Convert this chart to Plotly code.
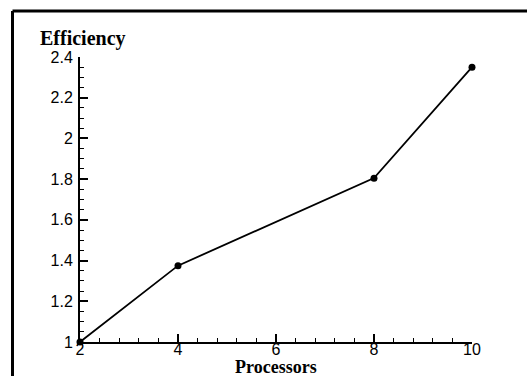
import plotly.graph_objects as go

processors = [2, 4, 8, 10]
efficiency = [1.0, 1.375, 1.805, 2.35]

x_ticks = [2, 4, 6, 8, 10]
x_tick_text = ["2", "4", "6", "8", "10"]
y_ticks = [1.0, 1.2, 1.4, 1.6, 1.8, 2.0, 2.2, 2.4]
y_tick_text = ["1", "1.2", "1.4", "1.6", "1.8", "2", "2.2", "2.4"]

W, H = 527, 376
ML, MR, MT, MB = 80, 55, 57, 34
pw, ph = W - ML - MR, H - MT - MB

fig = go.Figure()
fig.add_trace(go.Scatter(
    x=processors, y=efficiency, mode="lines+markers",
    line=dict(color="black", width=1.8),
    marker=dict(color="black", size=7),
    cliponaxis=False, showlegend=False,
))

tick_font = dict(family="Liberation Sans, Arial", size=16, color="black")
title_font = dict(family="Liberation Serif, Times New Roman", size=20, color="black")

fig.update_xaxes(
    range=[2, 10], tickmode="array", tickvals=x_ticks, ticktext=x_tick_text,
    ticks="inside", ticklen=8, tickwidth=1.5, tickcolor="black",
    minor=dict(tick0=2, dtick=0.4, ticks="inside", ticklen=4, tickwidth=1, tickcolor="black"),
    showline=True, linecolor="black", linewidth=2, showgrid=False, zeroline=False,
    tickfont=tick_font, ticklabelstandoff=-8,
)
fig.update_yaxes(
    range=[1, 2.4], tickmode="array", tickvals=y_ticks, ticktext=y_tick_text,
    ticks="inside", ticklen=8, tickwidth=1.5, tickcolor="black",
    minor=dict(tick0=1, dtick=0.05, ticks="inside", ticklen=4, tickwidth=1, tickcolor="black"),
    showline=True, linecolor="black", linewidth=2, showgrid=False, zeroline=False,
    tickfont=tick_font, ticklabelstandoff=2,
)

# axis titles
fig.add_annotation(text="<b>Efficiency</b>", xref="paper", yref="paper",
                   x=(38 - ML) / pw, y=(H - MB - 38) / ph, xanchor="left", yanchor="middle",
                   showarrow=False, font=title_font)
fig.add_annotation(text="<b>Processors</b>", xref="paper", yref="paper",
                   x=0.5, y=(H - MB - 367) / ph, xanchor="center", yanchor="middle",
                   showarrow=False, font=dict(title_font, size=18))

# outer frame (left and top edges)
fx = (12.5 - ML) / pw
fy = (H - MB - 11) / ph
fig.add_shape(type="line", xref="paper", yref="paper", x0=fx, x1=(W + 5 - ML) / pw,
              y0=fy, y1=fy, line=dict(color="black", width=3))
fig.add_shape(type="line", xref="paper", yref="paper", x0=fx, x1=fx,
              y0=fy, y1=(-MB - 5) / ph, line=dict(color="black", width=3))

fig.update_layout(
    width=W, height=H, margin=dict(l=ML, r=MR, t=MT, b=MB),
    paper_bgcolor="white", plot_bgcolor="white",
)

fig.write_html("out.html")
